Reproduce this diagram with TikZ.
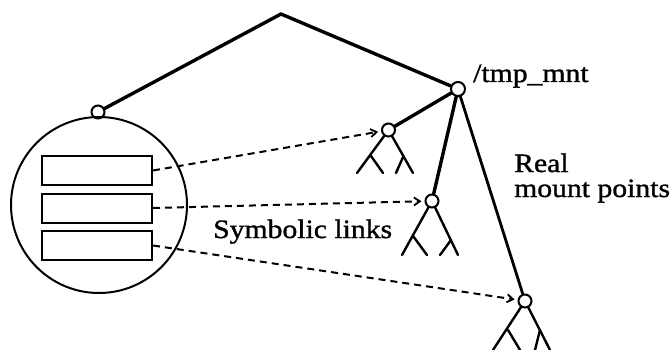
\documentclass[tikz,border=0pt]{standalone}
\usepackage{fontspec}
\setmainfont{Liberation Serif}[FakeStretch=1.12,FakeBold=1.2]
\usetikzlibrary{arrows.meta}
\begin{document}
\begin{tikzpicture}[x=1pt,y=-1pt,
  trunk/.style={line width=3.4pt,line cap=round,line join=round},
  twig/.style={line width=2.4pt,line cap=round},
  knot/.style={circle,draw,line width=2pt,minimum size=13pt,inner sep=0pt},
  slot/.style={draw,line width=2pt,minimum width=110pt,minimum height=29pt,inner sep=0pt},
  symlink/.style={line width=2pt,dash pattern=on 7pt off 5pt,-{Straight Barb[length=6pt,width=8pt,line width=1.8pt]},shorten >=3pt},
  lbl/.style={font=\fontsize{26.5}{25}\selectfont,inner sep=0pt}]
\useasboundingbox (0,0) rectangle (671,350);
% nodes
\node[circle,draw,line width=2pt,minimum size=176pt,inner sep=0pt] (disk) at (99,205) {};
\node[knot] (left) at (98,112) {};
\coordinate (apex) at (281,14);
\node[knot,minimum size=14pt] (tmp) at (458,89) {};
\node[knot] (c1) at (388.5,130) {};
\node[knot] (c2) at (432,201) {};
\node[knot] (c3) at (525,301) {};
\node[slot] (r1) at (97,170.5) {};
\node[slot] (r2) at (97,208) {};
\node[slot] (r3) at (97,245.5) {};
% labels
\node[lbl,anchor=base west] (tmplbl) at (473,82) {/tmp\_mnt};
\node[lbl,anchor=base west] (symlbl) at (213,238) {Symbolic links};
\node[lbl,anchor=base west,align=left] (reallbl) at (514,197) {Real\\mount points};
% main tree
\draw[trunk] (left) -- (apex) -- (tmp);
\draw[trunk] (tmp) -- (c1);
\draw[trunk] (tmp) -- (c2);
\draw[trunk,line width=2.8pt] (tmp) -- (c3);
% subtree 1
\coordinate (c1l) at (357,173); \coordinate (c1r) at (413,173);
\coordinate (c1a) at (371,156); \coordinate (c1b) at (403.5,156);
\coordinate (c1al) at (383,173); \coordinate (c1br) at (396,173);
\draw[twig] (c1) -- (c1l); \draw[twig] (c1) -- (c1r);
\draw[twig] (c1a) -- (c1al); \draw[twig] (c1b) -- (c1br);
% subtree 2
\coordinate (c2l) at (402,255); \coordinate (c2r) at (458,255);
\coordinate (c2a) at (413,236); \coordinate (c2b) at (451,240);
\coordinate (c2al) at (427,255); \coordinate (c2br) at (440,255);
\draw[twig] (c2) -- (c2l); \draw[twig] (c2) -- (c2r);
\draw[twig] (c2a) -- (c2al); \draw[twig] (c2b) -- (c2br);
% subtree 3
\coordinate (c3l) at (493,350); \coordinate (c3r) at (550,350);
\coordinate (c3a) at (508,330); \coordinate (c3b) at (540,330);
\coordinate (c3al) at (520,350); \coordinate (c3br) at (535,350);
\draw[twig] (c3) -- (c3l); \draw[twig] (c3) -- (c3r);
\draw[twig] (c3a) -- (c3al); \draw[twig] (c3b) -- (c3br);
% symbolic links
\draw[symlink] (r1.east) -- (c1);
\draw[symlink] (r2.east) -- (c2);
\draw[symlink] (r3.east) -- (c3);
\end{tikzpicture}
\end{document}
